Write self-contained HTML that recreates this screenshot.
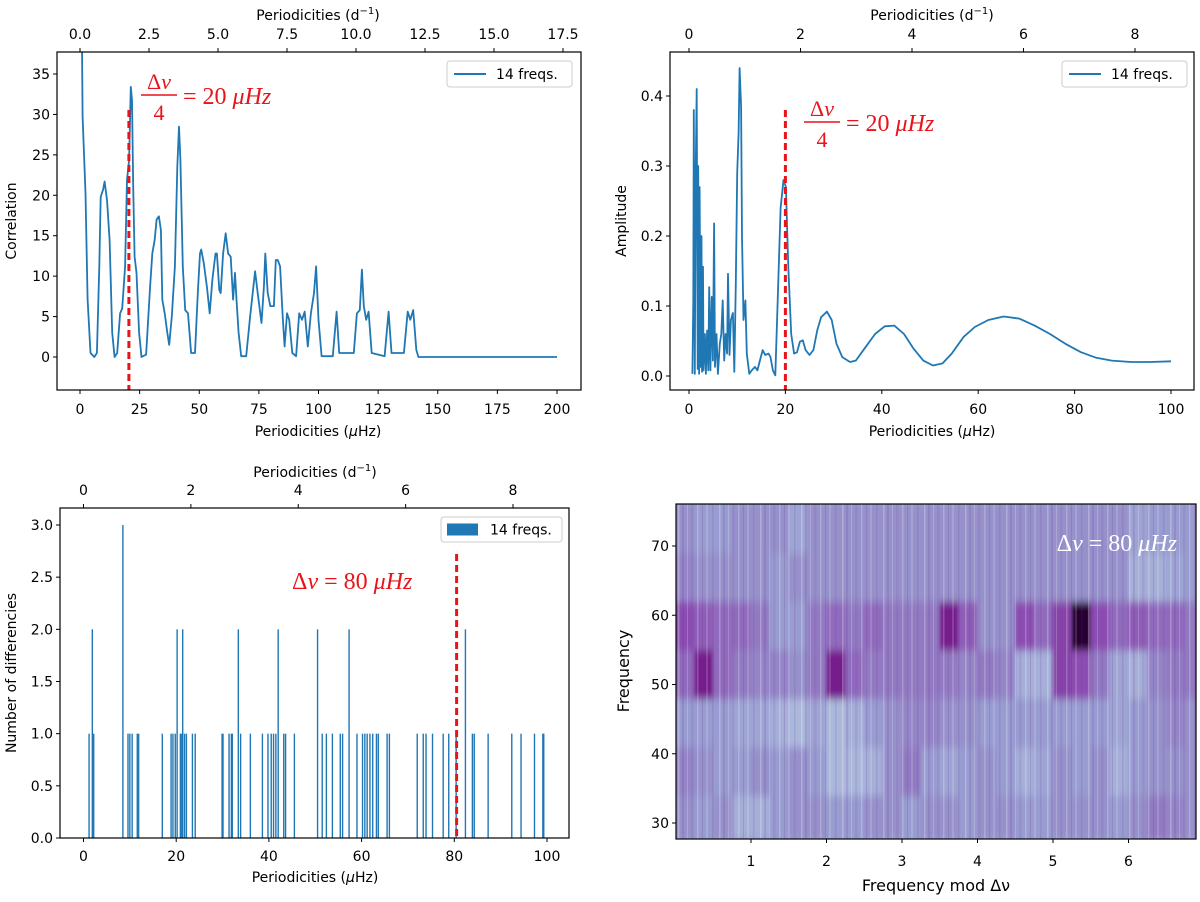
<!DOCTYPE html>
<html><head><meta charset="utf-8"><style>
html,body{margin:0;padding:0;background:#fff;}
svg text{font-family:"DejaVu Sans","Liberation Sans",sans-serif;}
.m{font-family:"Liberation Serif",serif;}
</style></head><body>
<svg id="s" width="1200" height="897" viewBox="0 0 1200 897" xmlns="http://www.w3.org/2000/svg">
<defs>
<clipPath id="c1"><rect x="57" y="52" width="524" height="338"/></clipPath>
<clipPath id="c2"><rect x="670" y="52" width="524" height="338"/></clipPath>
<clipPath id="c3"><rect x="60" y="508" width="509" height="330"/></clipPath>
<clipPath id="c4"><rect x="676" y="504" width="520" height="335"/></clipPath>
<filter id="bl" x="-5%" y="-5%" width="110%" height="110%"><feGaussianBlur stdDeviation="1.5 4"/></filter>
<pattern id="stripes" width="41" height="10" patternUnits="userSpaceOnUse" x="676">
<rect x="2" width="1.5" height="10" fill="#fff" opacity="0.25"/>
<rect x="6" width="2" height="10" fill="#6a2a90" opacity="0.15"/>
<rect x="11" width="1" height="10" fill="#fff" opacity="0.2"/>
<rect x="15" width="2.5" height="10" fill="#7a3aa0" opacity="0.12"/>
<rect x="21" width="1.5" height="10" fill="#fff" opacity="0.22"/>
<rect x="26" width="1" height="10" fill="#6a2a90" opacity="0.18"/>
<rect x="30" width="2" height="10" fill="#fff" opacity="0.15"/>
<rect x="36" width="1.5" height="10" fill="#6a2a90" opacity="0.14"/>
</pattern>
</defs>
<g id="root"></g>
</svg>
<script>
// ---------- Panel 1 data: correlation ----------
const corrX=[0.8,1.1,2.3,3.2,4.4,6,7.1,8.1,8.7,9.7,10.3,11.3,12.4,13.5,14.5,15.6,16.8,17.7,18.9,19.7,20.6,21.3,21.8,22.3,22.9,23.7,24.8,25.8,27.7,29.4,30.3,31.3,32.1,33.1,33.9,34.5,35.5,36.6,37.4,38.5,39.8,40.8,41.5,42.1,43.1,44.1,45.3,46.6,48.2,49.4,50.3,50.8,51.9,53.2,54.4,55.5,56.8,57.4,58.4,59,60,61.1,62.1,63.2,64.2,65,65.6,66.5,67.6,69.7,71.3,73.4,74.5,76.1,77.1,77.7,78.7,79.8,81.3,82.1,82.9,83.9,85,85.8,86.8,87.7,89,90.6,91.9,93.1,94.2,95.5,96.8,98.1,99,100,101.3,106,107.6,108.7,114.8,116.1,117.3,118.2,119,120,121,122.3,127.7,129.4,130.6,135.8,137.4,138.5,139.7,141,141.9,200];
const corrY=[40,29.7,20.3,7.1,0.5,0,0.5,11.2,19.8,20.7,21.7,19.4,14.5,3,0,0.5,5.4,6,11.2,21.9,24.4,33.4,31.8,21.1,12.4,10.4,3,0,0.3,8.7,12.8,14.5,17,17.4,15.7,7.1,5.4,3,1.5,5,11.2,23.5,28.5,24.4,11.2,5.8,5.4,0.5,0.5,7.9,12.8,13.3,11.6,8.7,5.4,9.6,12.8,12.8,8.3,7.9,12.8,15.3,12.8,12.4,7.1,10.4,7.1,3,0.1,0.1,5,10.6,7.9,4.2,8.7,12.8,7.9,6.3,6.3,12,12,11.2,5,1.3,5.4,4.6,0.5,0.1,5.4,4.6,5.6,1.3,5.4,7.9,11.2,4.6,0.1,0.1,5.6,0.5,0.5,5.4,5.8,10.8,6.3,4.6,5.6,0.5,0.1,5.6,0.5,0.5,5.6,4.6,5.8,0.9,0,0];
const p1XTicks=[0,25,50,75,100,125,150,175,200];
const p1YTicks=[0,5,10,15,20,25,30,35];
const p1TopTicks=["0.0","2.5","5.0","7.5","10.0","12.5","15.0","17.5"];
// ---------- Panel 2 data: amplitude ----------
const ampX=[0.7,0.9,1.0,1.2,1.4,1.6,1.8,1.9,2.1,2.2,2.4,2.6,2.7,2.9,3.0,3.3,3.5,3.75,4.0,4.2,4.45,4.7,4.95,5.2,5.4,5.7,6.0,6.4,6.7,7.0,7.3,7.6,7.9,8.1,8.4,8.7,9.1,9.4,9.7,10.0,10.3,10.5,10.8,11.0,11.3,11.7,12.0,12.5,13.0,13.7,14.2,14.9,15.3,15.8,16.5,16.9,17.4,17.9,18.4,19,19.6,20.1,20.6,21.2,21.8,22.4,23,23.6,24.2,25,25.8,26.6,27.4,28.6,29.6,30.6,31.8,33.4,34.6,36.6,38.6,40.6,42.6,44.6,46.6,48.6,50.6,52.6,54.5,57,59.3,62.1,65.3,68.5,71.7,74.9,78.1,81.3,84.5,87.7,91.7,95.7,100];
const ampY=[0.003,0.108,0.38,0.003,0.29,0.41,0.01,0.3,0.003,0.27,0.013,0.2,0.006,0.156,0.008,0.06,0.003,0.065,0.008,0.127,0.008,0.113,0.022,0.218,0.013,0.06,0.003,0.046,0.06,0.108,0.022,0.06,0.032,0.146,0.03,0.08,0.09,0.006,0.132,0.29,0.347,0.44,0.385,0.2,0.08,0.108,0.032,0.003,0.008,0.013,0.008,0.027,0.037,0.03,0.032,0.027,0.008,0.001,0.108,0.24,0.28,0.27,0.156,0.06,0.032,0.034,0.049,0.051,0.037,0.03,0.037,0.065,0.084,0.092,0.08,0.046,0.027,0.02,0.022,0.041,0.06,0.071,0.072,0.06,0.039,0.022,0.015,0.018,0.032,0.056,0.07,0.08,0.085,0.082,0.072,0.06,0.046,0.034,0.026,0.022,0.02,0.02,0.021];
const p2XTicks=[0,20,40,60,80,100];
const p2YTicks=[0,0.1,0.2,0.3,0.4];
const p2YLabels=["0.0","0.1","0.2","0.3","0.4"];
const p2TopTicks=["0","2","4","6","8"];
// ---------- Panel 3 data: histogram of differences ----------
const diffX=[1.9,8.5,20.2,21.4,33.4,42,50.5,57.3,82.4,1.2,2.2,9.6,10,10.5,11.6,11.9,17,18.9,19.3,19.8,20.9,21.2,21.8,22.2,23.5,24.1,29.9,30.1,31.4,31.9,32.1,33.9,36,38.6,39.8,40.5,41,41.5,43.2,43.6,45.5,51.5,52.4,53.7,55.4,55.9,59,60.2,60.7,61.2,61.8,62.4,63.2,63.6,65.5,66,72,73.3,73.9,75.3,77.6,78.8,80.4,83.9,84.3,87.3,92.4,94.4,97.3,99.1,99.3];
const diffN=[2,3,2,2,2,2,2,2,2,1,1,1,1,1,1,1,1,1,1,1,1,1,1,1,1,1,1,1,1,1,1,1,1,1,1,1,1,1,1,1,1,1,1,1,1,1,1,1,1,1,1,1,1,1,1,1,1,1,1,1,1,1,1,1,1,1,1,1,1,1,1];
const p3XTicks=[0,20,40,60,80,100];
const p3YTicks=[0,0.5,1,1.5,2,2.5,3];
const p3YLabels=["0.0","0.5","1.0","1.5","2.0","2.5","3.0"];
const p3TopTicks=["0","2","4","6","8"];
// ---------- Panel 4 data: echelle heatmap (rows bottom->top, cols of 0.25) ----------
const heatRowEdges=[27.7,34,41,48,55,62,69,76];
const heatColStep=0.25;
const heatRow0=[3.5,3,3.5,2,2,3,3.5,3.5,3,3,3.5,3.5,3,3.5,3.5,3,3.5,3.5,3,3,3.5,3.5,3.5,3,3.5,4.5,4,3.5];
const heatRow1=[4,3.5,3,3,3.5,3,3.5,3,1.5,1.5,2,3.5,4.5,3,2.5,3,3.5,3,2,2.5,3.5,3,3.5,2,3,3.5,3.5,3.5];
const heatRow2=[3,3,3,2.5,2.5,2,1.5,2.5,1.5,2,3,3.5,4,4,3.5,3.5,3,3,3,3,3,3,3,2.5,3,3.5,4,3.5];
const heatRow3=[5,8,5,4.5,4,4,3.5,4.5,8,5,4.5,4.5,4.5,4.5,4.5,4,4.5,4,2,2,6.5,6,4.5,2.5,2,4,4.5,4.5];
const heatRow4=[6,5.5,5,5,4.5,3,3,4.5,5,4.5,5,4.5,4.5,4.5,8,5.5,3.5,3.5,6,5,6.5,10,6,5,5.5,5,5,4.5];
const heatRow5=[4,3.5,3.5,3.5,3.5,3,3.5,3.5,3.5,3.5,3.5,3.5,3.5,3.5,3.5,3.5,3.5,3.5,3.5,3.5,3.5,3.5,3.5,3.5,2,2,2.5,3];
const heatRow6=[3.5,3,3,3.5,3.5,3.5,2.5,3.5,3.5,3.5,3.5,3.5,3.5,3.5,3.5,3.5,3.5,3.5,3.5,3.5,3.5,3.5,3.5,3.5,2.5,3,3,3];
const p4XTicks=[1,2,3,4,5,6];
const p4YTicks=[30,40,50,60,70];

const NS="http://www.w3.org/2000/svg";
const root=document.getElementById('root');
function mk(tag,attrs,parent){const e=document.createElementNS(NS,tag);for(const k in attrs)e.setAttribute(k,attrs[k]);(parent||root).appendChild(e);return e;}
function lin(d0,d1,p0,p1){return v=>p0+(v-d0)*(p1-p0)/(d1-d0);}
const BLUE="#1f77b4";

function frame(x,y,w,h,name){
  const r=mk('rect',{x:x,y:y,width:w,height:h,fill:'none',stroke:'#000','stroke-width':1.2});
  
  
}
function xTicks(vals,labels,scale,yEdge,dir,labelY,name){
  const g=mk('g',{});
  
  
  vals.forEach((v,i)=>{
    const x=scale(v);
    mk('line',{x1:x,x2:x,y1:yEdge,y2:yEdge+dir*4,stroke:'#000','stroke-width':1},g);
    const t=mk('text',{x:x,y:labelY,'text-anchor':'middle','font-size':14,fill:'#000'},g);
    t.textContent=labels[i];
  });
}
function yTicks(vals,labels,scale,xEdge,name){
  const g=mk('g',{});
  
  
  vals.forEach((v,i)=>{
    const y=scale(v);
    mk('line',{x1:xEdge,x2:xEdge-4,y1:y,y2:y,stroke:'#000','stroke-width':1},g);
    const t=mk('text',{x:xEdge-7,y:y+5,'text-anchor':'end','font-size':14,fill:'#000'},g);
    t.textContent=labels[i];
  });
}
function label(txt,x,y,rot,name,size){
  const t=mk('text',{x:x,y:y,'text-anchor':'middle','font-size':size||14,fill:'#000'});
  if(rot)t.setAttribute('transform','rotate(-90 '+x+' '+y+')');
  t.innerHTML=txt;
  
  
  return t;
}
function legend(x,y,w,h,bar,name){
  const g=mk('g',{});
  
  
  mk('rect',{x:x,y:y,width:w,height:h,rx:3,fill:'#fff',stroke:'#ccc','stroke-width':1},g);
  if(bar) mk('rect',{x:x+6,y:y+h/2-6,width:31,height:12,fill:BLUE},g);
  else mk('line',{x1:x+7,x2:x+39,y1:y+h/2,y2:y+h/2,stroke:BLUE,'stroke-width':2},g);
  const t=mk('text',{x:x+49,y:y+h/2+5,'font-size':14,fill:'#000'},g);
  t.textContent='14 freqs.';
}
function fracLabel(x,y,name){
  const g=mk('g',{fill:'#e8141a'});
  
  
  const a=mk('text',{x:x+18,y:y-6,'text-anchor':'middle','font-size':22,'class':'m'},g);
  a.innerHTML='Δ<tspan font-style="italic">ν</tspan>';
  mk('line',{x1:x,x2:x+36,y1:y,y2:y,stroke:'#e8141a','stroke-width':1.5},g);
  const b=mk('text',{x:x+18,y:y+25,'text-anchor':'middle','font-size':22,'class':'m'},g);
  b.textContent='4';
  const c=mk('text',{x:x+42,y:y+9,'font-size':24,'class':'m'},g);
  c.innerHTML='= 20 <tspan font-style="italic">μHz</tspan>';
}
function redLine(x,y1,y2,name){
  const l=mk('line',{x1:x,x2:x,y1:y1,y2:y2,stroke:'#e8141a','stroke-width':3,'stroke-dasharray':'7,4'});
  
  
}

// ===== Panel 1 =====
{
  const xs=lin(0,200,80,557), ys=lin(0,35,357,74), xt=lin(0,17.5,80,563);
  let d='';corrX.forEach((v,i)=>{d+=(i?'L':'M')+xs(v).toFixed(1)+','+ys(corrY[i]).toFixed(1);});
  const p=mk('path',{d:d,fill:'none',stroke:BLUE,'stroke-width':1.8,'clip-path':'url(#c1)','stroke-linejoin':'round'});
  
  
  redLine(xs(20.5),110,390,'delta-nu-quarter-line-1');
  fracLabel(141,95,'delta-nu-annotation-1');
  frame(57,52,524,338,'correlation-axes');
  xTicks(p1XTicks,p1XTicks.map(String),xs,390,1,414,'x-ticks-bottom-1');
  xTicks([0,2.5,5,7.5,10,12.5,15,17.5],p1TopTicks,xt,52,-1,39,'x-ticks-top-1');
  yTicks(p1YTicks,p1YTicks.map(String),ys,57,'y-ticks-1');
  label('Periodicities (<tspan font-style="italic">μ</tspan>Hz)',318,436,false,'x-axis-title-1');
  label('Periodicities (d<tspan dy="-6" font-size="10">−1</tspan><tspan dy="6">)</tspan>',318,20,false,'top-axis-title-1');
  label('Correlation',16,221,true,'y-axis-title-1');
  legend(447,61,125,26,false,'legend-1');
}
// ===== Panel 2 =====
{
  const xs=lin(0,100,689,1171), ys=lin(0,0.4,376,96), xt=lin(0,8,689,1135);
  let d='';ampX.forEach((v,i)=>{d+=(i?'L':'M')+xs(v).toFixed(1)+','+ys(ampY[i]).toFixed(1);});
  const p=mk('path',{d:d,fill:'none',stroke:BLUE,'stroke-width':1.8,'clip-path':'url(#c2)','stroke-linejoin':'round'});
  
  
  redLine(xs(20),110,390,'delta-nu-quarter-line-2');
  fracLabel(804,122,'delta-nu-annotation-2');
  frame(670,52,524,338,'amplitude-axes');
  xTicks(p2XTicks,p2XTicks.map(String),xs,390,1,414,'x-ticks-bottom-2');
  xTicks([0,2,4,6,8],p2TopTicks,xt,52,-1,39,'x-ticks-top-2');
  yTicks(p2YTicks,p2YLabels,ys,670,'y-ticks-2');
  label('Periodicities (<tspan font-style="italic">μ</tspan>Hz)',932,436,false,'x-axis-title-2');
  label('Periodicities (d<tspan dy="-6" font-size="10">−1</tspan><tspan dy="6">)</tspan>',932,20,false,'top-axis-title-2');
  label('Amplitude',626,221,true,'y-axis-title-2');
  legend(1062,61,125,26,false,'legend-2');
}
// ===== Panel 3 =====
{
  const xs=lin(0,100,83.5,547), ys=lin(0,3,838,525), xt=lin(0,8,83.5,513);
  const g=mk('g',{'clip-path':'url(#c3)'});
  
  
  diffX.forEach((v,i)=>{
    const x0=xs(v-0.15), x1=xs(v+0.15);
    const r=mk('rect',{x:x0,y:ys(diffN[i]),width:Math.max(1.2,x1-x0),height:ys(0)-ys(diffN[i]),fill:BLUE},g);
    
    
  });
  redLine(xs(80.5),554,838,'delta-nu-line-3');
  const t=mk('text',{x:292,y:589,'font-size':24,fill:'#e8141a','class':'m'});
  t.innerHTML='Δ<tspan font-style="italic">ν</tspan> = 80 <tspan font-style="italic">μHz</tspan>';
  
  
  frame(60,508,509,330,'histogram-axes');
  xTicks(p3XTicks,p3XTicks.map(String),xs,838,1,861,'x-ticks-bottom-3');
  xTicks([0,2,4,6,8],p3TopTicks,xt,508,-1,495,'x-ticks-top-3');
  yTicks(p3YTicks,p3YLabels,ys,60,'y-ticks-3');
  label('Periodicities (<tspan font-style="italic">μ</tspan>Hz)',315,882,false,'x-axis-title-3');
  label('Periodicities (d<tspan dy="-6" font-size="10">−1</tspan><tspan dy="6">)</tspan>',315,477,false,'top-axis-title-3');
  label('Number of differencies',16,673,true,'y-axis-title-3');
  legend(441,517,121,25,true,'legend-3');
}
// ===== Panel 4 =====
{
  const xs=lin(0,1,675.5,751), ys=lin(30,70,823,546);
  const stops=[[0,[190,212,232]],[3,[152,156,208]],[4.5,[146,122,194]],[6,[140,78,178]],[8,[118,28,140]],[10,[40,0,50]]];
  function cmap(v){for(let i=1;i<stops.length;i++){if(v<=stops[i][0]){const a=stops[i-1],b=stops[i];const t=(v-a[0])/(b[0]-a[0]);return 'rgb('+a[1].map((c,k)=>Math.round(c+(b[1][k]-c)*t)).join(',')+')';}}return 'rgb(40,0,50)';}
  const rows=[heatRow0,heatRow1,heatRow2,heatRow3,heatRow4,heatRow5,heatRow6];
  const gc=mk('g',{'clip-path':'url(#c4)'});
  mk('rect',{x:676,y:504,width:520,height:335,fill:'#9c9fd0'},gc);
  const g=mk('g',{filter:'url(#bl)'},gc);
  
  
  rows.forEach((row,ri)=>{
    const yTop=ys(heatRowEdges[ri+1]), yBot=ys(heatRowEdges[ri]);
    row.forEach((v,ci)=>{
      const x0=xs(ci*heatColStep), x1=xs((ci+1)*heatColStep);
      const r=mk('rect',{x:x0-0.3,y:yTop-0.5,width:x1-x0+0.6,height:yBot-yTop+1,fill:cmap(v)},g);
      
      
    });
  });
  mk('rect',{x:676,y:504,width:520,height:335,fill:'url(#stripes)'},gc);
  const t=mk('text',{x:1177,y:551,'text-anchor':'end','font-size':24,fill:'#fff','class':'m'});
  t.innerHTML='Δ<tspan font-style="italic">ν</tspan> = 80 <tspan font-style="italic">μHz</tspan>';
  
  
  frame(676,504,520,335,'echelle-axes');
  xTicks(p4XTicks,p4XTicks.map(String),xs,839,1,866,'x-ticks-4');
  yTicks(p4YTicks,p4YTicks.map(String),ys,676,'y-ticks-4');
  label('Frequency mod Δν',936,891,false,'x-axis-title-4',16);
  label('Frequency',629,671,true,'y-axis-title-4',16);
}
</script>
</body></html>
